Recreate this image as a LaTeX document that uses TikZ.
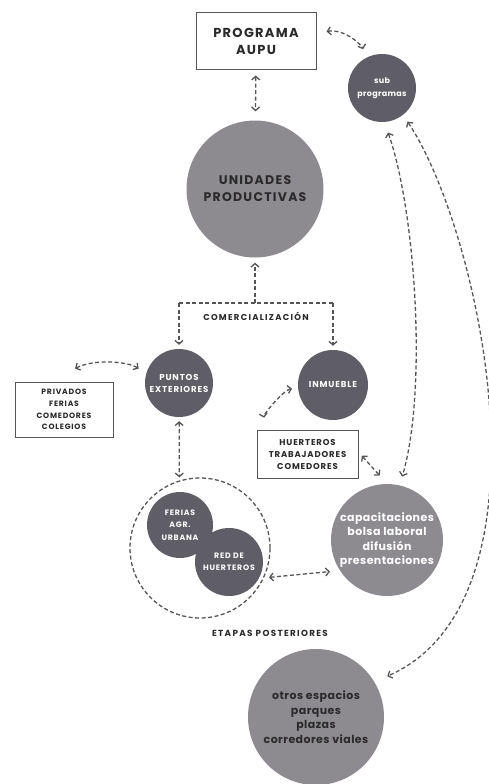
\documentclass[tikz,border=0pt]{standalone}
\usepackage{fontspec}
\setmainfont{Poppins}
\newfontfamily\capsfont[LetterSpace=10]{Poppins}
\newfontfamily\widecaps[LetterSpace=15]{Poppins}
\newfontfamily\lowfont[LetterSpace=4]{Poppins}
\usetikzlibrary{arrows.meta}
\definecolor{circdark}{HTML}{5F5D65}
\definecolor{circlight}{HTML}{8D8B90}
\definecolor{linegray}{HTML}{555555}
\definecolor{textdark}{HTML}{2A2A2A}

\begin{document}
\begin{tikzpicture}[x=1pt,y=-1pt,
  vtip/.tip={Straight Barb[length=3.5pt,width=8pt]},
  bigdisc/.style={circle,fill=circlight,inner sep=0pt,align=center,font=\lowfont\bfseries\fontsize{11}{14.5}\selectfont},
  smalldisc/.style={circle,fill=circdark,text=white,inner sep=0pt,align=center,font=\capsfont\bfseries\fontsize{8.6}{12}\selectfont},
  textbox/.style={draw=linegray,line width=1pt,inner sep=0pt,align=center,text=textdark,font=\capsfont\bfseries\fontsize{8.5}{12}\selectfont},
  dline/.style={draw=linegray,line width=1.3pt,dash pattern=on 4pt off 2.5pt},
  both/.style={dline,vtip-vtip}]
\fill[white] (0,0) rectangle (488,784);
\useasboundingbox (0,0) rectangle (488,784);

\node[textbox,minimum width=120pt,minimum height=57pt,font=\capsfont\bfseries\fontsize{13}{17}\selectfont] (aupu) at (256,41.5) {PROGRAMA\\AUPU};
\node[smalldisc,minimum size=68pt,font=\lowfont\bfseries\fontsize{8}{13}\selectfont] (sub) at (382,88) {sub\\programas};
\node[bigdisc,minimum size=137pt,text=textdark,font=\capsfont\bfseries\fontsize{12.5}{17}\selectfont] (unid) at (255,189) {UNIDADES\\PRODUCTIVAS};
\node[smalldisc,minimum size=68pt] (puntos) at (179,383) {PUNTOS\\EXTERIORES};
\node[smalldisc,minimum size=70pt] (inm) at (333,385) {INMUEBLE};
\node[textbox,minimum width=98pt,minimum height=55pt,font=\capsfont\bfseries\fontsize{7.7}{11.7}\selectfont] (priv) at (64,409.5) {PRIVADOS\\FERIAS\\COMEDORES\\COLEGIOS};
\node[textbox,minimum width=101pt,minimum height=48pt] (huert) at (307.5,454) {HUERTEROS\\TRABAJADORES\\COMEDORES};
\node[bigdisc,minimum size=112pt,text=white] (capac) at (387,540) {capacitaciones\\bolsa laboral\\difusión\\presentaciones};
\node[circle,dline,minimum size=140pt] (etapas) at (200,548) {};
\node[smalldisc,minimum size=66pt,font=\capsfont\bfseries\fontsize{7.8}{12.5}\selectfont] (ferias) at (180,525) {FERIAS\\AGR.\\URBANA};
\node[smalldisc,minimum size=68pt,font=\capsfont\bfseries\fontsize{7.8}{12}\selectfont] (red) at (229,562) {RED DE\\HUERTEROS};
\node[text=textdark,font=\widecaps\bfseries\fontsize{8.8}{10}\selectfont] (etlabel) at (270,633) {ETAPAS POSTERIORES};
\node[bigdisc,minimum size=136pt,text=textdark] (otros) at (316,717) {otros espacios\\parques\\plazas\\corredores viales};
\node[text=textdark,font=\widecaps\bfseries\fontsize{8.5}{10}\selectfont] (comlabel) at (256,316) {COMERCIALIZACIÓN};

\coordinate (comL) at (179,303);
\coordinate (comM) at (255,303);
\coordinate (comR) at (333,303);

\draw[both,shorten >=9pt] ([shift={(10,-10)}]aupu.east) .. controls +(19,-3) and +(-4,-12) .. (sub.118);
\draw[both,shorten <=5pt,shorten >=9pt] (aupu) -- (unid);
\draw[dline] (comL) -- (comR);
\draw[dline,-vtip,shorten >=5pt] (comM) -- (unid);
\draw[dline,-vtip,shorten >=4pt] (comL) -- (puntos);
\draw[dline,-vtip,shorten >=4pt] (comR) -- (inm);
\draw[both,shorten >=9pt] ([shift={(11,-13)}]priv.north) .. controls +(20,-10) and +(-18,-12) .. (puntos.164);
\draw[both,shorten <=4pt,shorten >=3pt] (puntos) -- (etapas.107);
\draw[both,shorten <=6pt,shorten >=12pt] (inm.184) .. controls +(-15,3) and +(-3,-15) .. ([xshift=10pt]huert.north west);
\draw[both,shorten <=5pt,shorten >=11pt] ([yshift=2pt]huert.east) -- (capac.90);
\draw[both,shorten <=11pt,shorten >=9pt] (sub.274) .. controls +(31,88) and +(28,-95) .. (capac.77);
\draw[both,shorten <=8pt,shorten >=14pt] (sub.308) .. controls +(77,115) and +(186,-82) .. (otros.31);
\draw[both,shorten <=5pt,shorten >=10pt] (etapas.335) -- (capac.213);
\end{tikzpicture}
\end{document}
